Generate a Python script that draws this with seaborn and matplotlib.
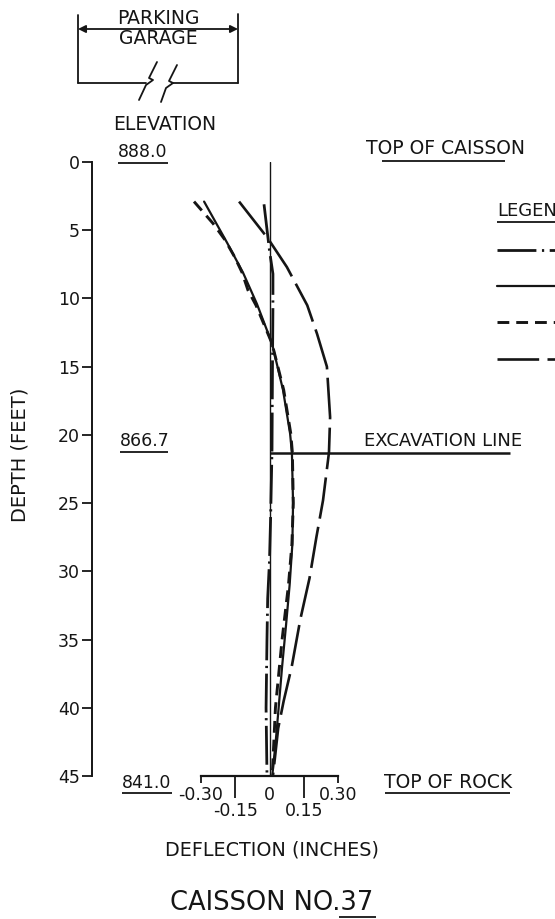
import matplotlib
matplotlib.use("Agg")
import matplotlib.pyplot as plt
import seaborn as sns
import pandas as pd

# ---------------- data ----------------
depth_dashdot = [3.1, 6.5, 8.2, 10.6, 15.0, 21.0, 26.0, 29.2, 32.0, 35.0, 40.0, 45.0]
defl_dashdot = [-0.024, 0.000, 0.015, 0.015, 0.013, 0.011, 0.005, 0.000, -0.008, -0.011, -0.015, -0.011]

depth_solid = [2.9, 5.9, 8.1, 10.4, 13.3, 16.7, 19.9, 21.3, 25.0, 28.0, 31.0, 34.0, 37.0, 40.0, 42.5, 45.0]
defl_solid = [-0.286, -0.186, -0.116, -0.055, 0.011, 0.059, 0.090, 0.098, 0.103, 0.100, 0.088, 0.072, 0.055, 0.040, 0.027, 0.012]

depth_dash = [2.9, 4.5, 5.7, 7.0, 8.1, 9.4, 10.5, 13.3, 16.7, 19.9, 21.3, 25.0, 28.0, 31.0, 35.0, 40.0, 45.0]
defl_dash = [-0.330, -0.247, -0.195, -0.151, -0.120, -0.094, -0.059, 0.011, 0.062, 0.093, 0.100, 0.104, 0.098, 0.083, 0.055, 0.026, 0.012]

depth_longdash = [2.9, 5.6, 7.7, 10.5, 12.6, 15.0, 18.7, 21.3, 24.8, 27.5, 30.5, 33.5, 37.0, 39.5, 41.5, 45.0]
defl_longdash = [-0.133, -0.007, 0.076, 0.165, 0.208, 0.251, 0.265, 0.260, 0.234, 0.205, 0.175, 0.135, 0.097, 0.062, 0.038, 0.015]

depth_ticks = [0, 5, 10, 15, 20, 25, 30, 35, 40, 45]
defl_major_ticks = [-0.30, 0.0, 0.30]
defl_major_labels = ["-0.30", "0", "0.30"]
defl_minor_ticks = [-0.15, 0.15]
defl_minor_labels = ["-0.15", "0.15"]

top_elev = 888.0
excav_elev = 866.7
rock_elev = 841.0
elev_labels = ["888.0", "866.7", "841.0"]
excav_depth = round(top_elev - excav_elev, 1)

# ---------------- style ----------------
sns.set_theme(style="ticks")
plt.rcParams["font.family"] = ["DejaVu Sans"]
plt.rcParams["lines.scale_dashes"] = False
INK = "#151515"

W, H = 555, 919
fig = plt.figure(figsize=(W / 100, H / 100), dpi=100)
fig.patch.set_facecolor("white")

# main axes: left spine is the depth axis (x px 92), depth 0..45 -> y px 162..776
x0_px, px_per_in = 269.5, 228.7
ax_left, ax_right, ax_top, ax_bot = 92, 555, 162, 776
ax = fig.add_axes([ax_left / W, (H - ax_bot) / H, (ax_right - ax_left) / W, (ax_bot - ax_top) / H])
ax.patch.set_alpha(0)
ax.set_xlim((ax_left - x0_px) / px_per_in, (ax_right - x0_px) / px_per_in)
ax.set_ylim(45, 0)

# zero line and excavation line
ax.axvline(0, color=INK, lw=1.0, zorder=1)
ax.hlines(excav_depth, 0, (510 - x0_px) / px_per_in, color=INK, lw=1.8, zorder=1)

styles = [
    (defl_dashdot, depth_dashdot, (0, (28, 4, 1.6, 4)), 2.0),
    (defl_solid, depth_solid, "-", 1.6),
    (defl_dash, depth_dash, (0, (8.5, 5)), 2.1),
    (defl_longdash, depth_longdash, (0, (30, 6)), 1.9),
]
handles = []
for xs, ys, ls, lw in styles:
    df = pd.DataFrame({"deflection": xs, "depth": ys})
    n_before = len(ax.lines)
    sns.lineplot(data=df, x="deflection", y="depth", sort=False, estimator=None,
                 color=INK, linewidth=lw, linestyle=ls, ax=ax, zorder=3)
    handles.append(ax.lines[n_before])

# spines and ticks
for s in ["top", "right"]:
    ax.spines[s].set_visible(False)
ax.spines["left"].set_linewidth(1.4)
ax.spines["left"].set_color(INK)
ax.spines["bottom"].set_linewidth(1.6)
ax.spines["bottom"].set_color(INK)
ax.spines["bottom"].set_bounds(-0.30, 0.30)

ax.set_yticks(depth_ticks)
ax.set_yticklabels([str(t) for t in depth_ticks])
ax.tick_params(axis="y", direction="out", length=7.2, width=1.3, pad=1.5,
               labelsize=12.5, color=INK, labelcolor=INK)

ax.set_xticks(defl_major_ticks)
ax.set_xticklabels(defl_major_labels)
ax.set_xticks(defl_minor_ticks, minor=True)
ax.set_xticklabels(defl_minor_labels, minor=True)
ax.tick_params(axis="x", which="major", direction="out", length=5, width=1.3, pad=2,
               labelsize=12.5, color=INK, labelcolor=INK)
ax.tick_params(axis="x", which="minor", direction="out", length=15.8, width=1.3, pad=3,
               labelsize=12.5, color=INK, labelcolor=INK)
ax.xaxis.get_major_ticks()[1].tick1line.set_visible(False)
ax.set_xlabel("")
ax.set_ylabel("")

# legend (cut off at the right edge like the reference)
leg = ax.legend(handles, [""] * 4, title="LEGEND", loc="upper left",
                bbox_to_anchor=(497 / W, 1 - 202 / H), bbox_transform=fig.transFigure,
                frameon=False, handlelength=6, fontsize=13, title_fontsize=13,
                borderpad=0, borderaxespad=0, labelspacing=1.02, alignment="left",
                handletextpad=0.4)
leg.get_title().set_color(INK)
# gap between the title and the first entry
leg._legend_box.sep = 15.8

# ---------------- overlay for annotations (pixel coordinates) ----------------
ov = fig.add_axes([0, 0, 1, 1])
ov.set_xlim(0, W)
ov.set_ylim(H, 0)
ov.axis("off")
ov.patch.set_visible(False)

def txt(x, y, s, size=13.5, **kw):
    return ov.text(x, y, s, fontsize=size, color=INK, ha=kw.pop("ha", "center"),
                   va=kw.pop("va", "center"), **kw)

def uline(x1, x2, y, lw=1.3):
    ov.plot([x1, x2], [y, y], color=INK, lw=lw, solid_capstyle="butt")

# parking garage sketch
ov.plot([78, 78], [15, 83], color=INK, lw=1.3)
ov.plot([238, 238], [14, 83], color=INK, lw=1.3)
ov.plot([78, 146], [83, 83], color=INK, lw=1.3)
ov.plot([172, 238], [83, 83], color=INK, lw=1.3)
ov.annotate("", xy=(78, 29), xytext=(238, 29),
            arrowprops=dict(arrowstyle="<|-|>", lw=1.3, color=INK,
                            shrinkA=0, shrinkB=0, mutation_scale=11))
ov.plot([157, 149, 153, 146, 139], [62, 78, 80, 85, 100], color=INK, lw=1.3)
ov.plot([177, 169, 173, 166, 161], [65, 81, 83, 88, 102], color=INK, lw=1.3)
txt(158, 18, "PARKING")
txt(158, 39, "GARAGE")
txt(165, 124, "ELEVATION")

# elevations
txt(143, 152, elev_labels[0], 12.5)
uline(118, 168, 163)
txt(145, 441, elev_labels[1], 12.5)
uline(120, 168, 452)
txt(147, 783, elev_labels[2], 12.5)
uline(122, 172, 793)

txt(445, 148, "TOP OF CAISSON")
uline(382, 505, 161)
txt(443, 441, "EXCAVATION LINE", 13)
txt(448, 782, "TOP OF ROCK")
uline(385, 510, 793)
uline(497, 555, 222)

txt(20, 455, "DEPTH (FEET)", 14, rotation=90)
txt(272, 850, "DEFLECTION (INCHES)", 13.8)
title = txt(272, 903, "CAISSON NO.37", 18.5)

# underline below the "37" of the title, measured from the rendered text
fig.canvas.draw()
r = fig.canvas.get_renderer()
bb = title.get_window_extent(r)
probe = ov.text(0, 0, "37", fontsize=18.5)
w37 = probe.get_window_extent(r).width
probe.remove()
uline(bb.x1 - w37 - 2, bb.x1 + 2, 917)

fig.savefig("out.png", dpi=100, facecolor="white")
